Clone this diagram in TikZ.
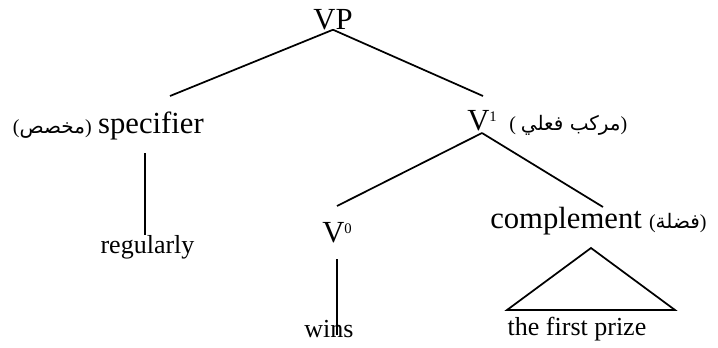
\documentclass[tikz,border=0pt]{standalone}
\usepackage{fontspec}
\setmainfont{Liberation Serif}
\newfontfamily\arabicfont[Script=Arabic]{DejaVu Sans}
\TeXXeTstate=1
\usetikzlibrary{positioning}

% Arabic gloss, set right to left
\newcommand{\artext}[1]{{\arabicfont\beginR #1\endR}}
% bar level on V
\newcommand{\barlevel}[1]{V\raisebox{6.5pt}{\fontsize{11}{11}\selectfont #1}}

\tikzset{
    cat/.style={inner sep=0pt, anchor=base, font=\fontsize{23}{24}\selectfont},
    word/.style={inner sep=0pt, anchor=base, font=\fontsize{19.5}{20}\selectfont},
    gloss/.style={inner sep=0pt, font=\fontsize{15}{16}\selectfont},
    branch/.style={line width=1.3pt}
}

\begin{document}
\begin{tikzpicture}[x=0.75pt, y=-0.75pt]
    \useasboundingbox (0,0) rectangle (718,347);

    % categories
    \node[cat] (vp) at (333,29) {VP};
    \node[cat] (spec) at (151,133) {specifier};
    \node[cat, anchor=base west] (v1) at (467,130) {\barlevel{1}};
    \node[cat, anchor=base west] (v0) at (322,242) {\barlevel{0}};
    \node[cat, anchor=base west] (comp) at (490,228) {complement};

    % Arabic glosses
    \node[gloss] (spec-ar) [base left=4.5pt of spec] {(\artext{مخصص})};
    \node[gloss] (v1-ar) [base right=9pt of v1] {(\ \artext{مركب فعلي})};
    \node[gloss] (comp-ar) [base right=5pt of comp] {(\artext{فضلة})};

    % words
    \node[word] (reg) at (147.5,253) {regularly};
    \node[word] (wins) at (329,337) {wins};
    \node[word] (prize) at (577,335) {the first prize};

    % branch ends
    \coordinate (vp-l) at (170,96);
    \coordinate (vp-r) at (483,96);
    \coordinate (spec-dn) at (145,153);
    \coordinate (reg-up) at (145,235);
    \coordinate (v1-dn) at (482,133);
    \coordinate (v1-l) at (337,206);
    \coordinate (v1-r) at (603,207);
    \coordinate (v0-dn) at (337,259);
    \coordinate (wins-up) at (337,335);
    \coordinate (tri-top) at (591,248);
    \coordinate (tri-l) at (507,310);
    \coordinate (tri-r) at (675,310);

    \draw[branch] (vp.south) -- (vp-l);
    \draw[branch] (vp.south) -- (vp-r);
    \draw[branch] (spec-dn) -- (reg-up);
    \draw[branch] (v1-dn) -- (v1-l);
    \draw[branch] (v1-dn) -- (v1-r);
    \draw[branch] (v0-dn) -- (wins-up);
    \draw[branch] (tri-top) -- (tri-l) -- (tri-r) -- cycle;

\end{tikzpicture}
\end{document}
